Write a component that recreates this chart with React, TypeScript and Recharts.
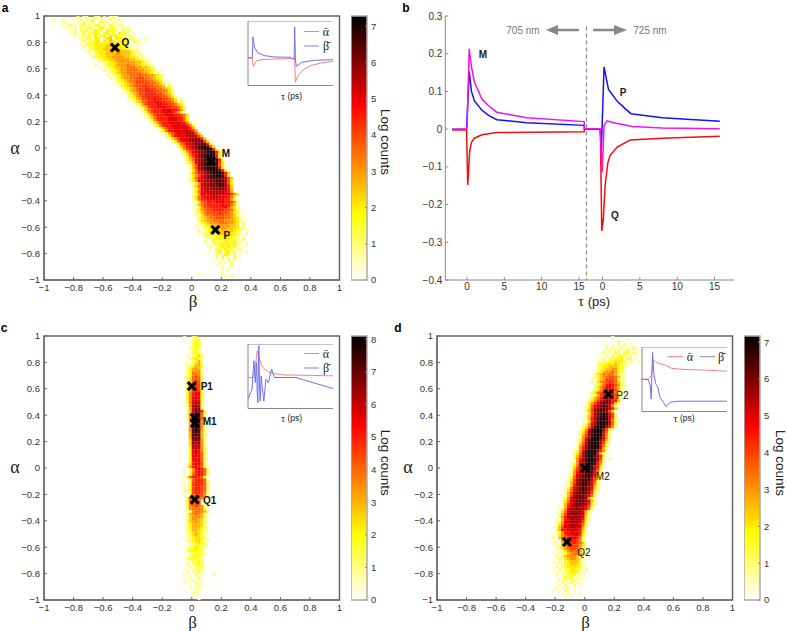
import React from "react";
import {
  ScatterChart, Scatter, XAxis, YAxis, ReferenceArea, ReferenceLine,
  LineChart, Line, BarChart, Bar,
} from "recharts";

const FONT = "'Liberation Sans', Arial, sans-serif";
const SERIF = "'Liberation Serif', serif";
const axisTicks = [-1, -0.8, -0.6, -0.4, -0.2, 0, 0.2, 0.4, 0.6, 0.8, 1];

// Each row: "first bin:levels" from alpha=1 downward; a level char is half a log count, blank = empty bin.
const rowsA = [
"11:2 12  21 2 121","3:2  2  1 12 213 121 2 12","6:12 1 213 22 1312 21 1","6:1 221 2312 33 2132 12","7:21 2 3 232 342 332 212 1",
"9:12 233 2432 4332 3221","8:1 2 23 3343 3423 4322 1 1","10:2 1323 4334 4343 3221","11:12 33 44 345 4434 32 1 2","12:13 3244 4354 4443 321 1",
"12:1 2334444455444331 2","13:2 33444455454432 1 1","13:1 234445555554431 2","14:12 3444555565554321","15:1 23445556655543 21",
"16:2334455666655443 2","17:12344556666655432 1","18:1 2344566666655432","17:2  2344566676655432","19:1 23455667776655431",
"20:2 2345667777665543 1","21:1234566777776654 2","21:1 234566777877665431","22:2 2456677888776543","24:2345677888877654 1",
"23:1 2345678888877653 1","25:2345678889887765 3","26:234567889988776542","27:23567889998877642","26:1 2456889999887653",
"28:23467899999887642","29:23568899a9988764 2","28:1 2457899aa998875 3","31:2368999aa9988754","30:1 246899aaa9988753",
"32:12578999aaa99863","33:2368999aaa9863","34:2468999aaa99874","34:12579999aaa9974","35:1368999aaa9974",
"36:146899aaaa9974","37:247999aaaaa974","38:136899aaaaa96","39:24799aaaaba96","40:13689aaabbb85",
"41:2479aaabbbb85","42:2468aaabbcb95","43:2479aabbccc84","44:1478aabccdd93","45:2579abcdeed84",
"46:3689abcdeee93","46:1368abbcdeee94","47:2479abcdeee93","47:1368abcdeee92","48:357abcdeeed93",
"48:246abcdeeed84","48:1 58bcdeeed84","49:258bcdeeed94","49:147abcdeeed94","49:2579abcdeeed95",
"49:1468abcddeed94","49:2479abccdddcb85","49:246aabbccdddb84","50:146abbccdddb84","50:257abbcccddb95",
"50:136abbbccccb95","50:247aabbbbbba96","50:136aaabbbbbaa864","50:2479aaabbaaa974","50:14799aaaaaa9963",
"50:1 478999aaa99862","51:257899999a99752","50:1 368899999a8641","51:2467889999887531","51:2357888898876431",
"51:2 4677888877652 1","51:1345677888776542","52:245667777666542 1","52:13456667776654 3","51:2 2345566666554 2",
"52:1 234455665544321","52:2 1344455555432 1","53:12344455544431 2","52:1 232344454432 1","54:1 2334444332 2",
"54:2 13233433422 1","55:1 2334343421 2","55:12 23434331 1","56:1 332433 22","55:1  24 3423 1 2",
"57:12 243 2 1","58:2 3 1 31","57:1  2 3 2 1","59:2 1 2","58:1 1  2",
"60:2 1","60:1 1","52:1       2","61:1 2","",
];
const rowsC = [
"47:1  24","47:1  233","50:343","49:1344","49:2343","50:342","49:1343","48:1 2453","49:24541","48:1 2462",
"48:2 3563","48:134663","48:246762","48:247772","48:248873","48:248983","48:258983","48:358a93","48:369a93","48:369a94",
"48:36ab94","48:37abb4","48:37abb4","48:37bcb4","48:37bcb4","48:37bdc3","48:27cdc3","49:6cdd3","48:26ceda3","48:27dfe82",
"48:17efe82","48:17ege82","48:16ege72","49:6ege72","49:6fgf72","49:7ege72","49:6efe62","49:6efe63","49:6ede62","49:5ded72",
"49:5dcd72","49:5ccc72","49:4ccc73","49:4bcb73","49:4bcb83","49:4bbb82","49:4bbb83","49:4abb83","48:15abb93","48:26aba82",
"47:1 27aba82","47:2 37aba83","47:1 38aba82","48:38aaa83","46:1  38aaa82","47:1 39aaa82","47:1 49aa983","47:2 49aa983","47:1249aa982","47:2 39aa972 1",
"47:1 38a9972","48:39a9972","48:38998 3","48:37998 2","48:3789872 1","48:2788873","47:1 2788762","48:2678762","48:2577763","48:2577652",
"48:2567653","48:2466652","48:2466643","48:2466542","48:2356542","48:2356532","47:1 245543","48:234554 2","45:1   234543","47:1 234432",
"48:2345431","48:234443","47:1 234432","48:134432","48:233422","48:1 3343","48:2 2343","47:1 2 3331","48:1 2332","48:2 1231",
"47:2 1 2 2   2","47:1 2 12","48:1 2 21","47:2 1 21","49:1 22 1","49:2 12","47:1  121","50:2 1","51:11","52:1",
];
const rowsD = [
"59:1","61:1  1","59:1 2 1 1","57:1 1 2 2 1 1","57:2 2 12 1 2","56:1 2 22 13 1 1","56:2 1 32 33 21","55:1 2 3 333 2 1 1","55:12 23334 32 1","54:1 2 334443 21 1",
"54:23344454321","54:23445554321","54:2345566431","53:12456676431","53:2457677531","53:23567887521","52:1 3568887421","52:2 4678987521","53:13579a98632","53:2468aa97521",
"52:12468aaa8621","52:2478abaa731","52:13589bba841","51:13579bcba841","51:2468abcb9951","50:1368abdcb952","50:147abcdca62","50:248abcdcb952","50:258bcdcb84","50:148bcdeda82",
"50:258bcdeda83","49:1 59bdeeda72","49:1 49bdeedb73","49:136abdeeda72","49:247adeeeb962","48:136adeeeb83","48:247bdeeea72","48:258bdeeea62","47:1 69bdeeda62","47:136adeeeb952",
"47:147bdeeeb83","47:158bdeeea73","46:1 69bdeeea52","46:136adeeeb962","46:247bdeeea52","46:258bdeedb94","46:269bdeedb83 2","45:1 6abdeeda72","45:136abdeed961","45:147abdeda94",
"45:158abdedb83","45:269bcdeda72","44:1 6abcddca62","44:137abcddb952","44:148bcdddb83","44:258bcddca72","43:1 59bcddca63","43:136abcdcba52","43:147abcdcb942","43:258bccdcb83",
"42:1 58bcccba72","42:136abcccb63","42:147abcccba52","42:258abcccb942","41:1 59abcbba83","41:136abbcbba72","41:147abbbba62","41:258bbccba52","41:269bbbbba41","40:1 59abbbb942",
"40:136aabbba83","40:147aabbba73","40:258aabbaa62","40:2599aaaa951","39:1 3699aaa942","39:1 46899aa83","39:2 57899a972","38:1 1 68899862","39:12 578898751","39:1 2568888641",
"39: 12467887531","40:1 2467776 2","39:1 2 35677652","40:2 3566651 1","40:12 4566541","39:1 2 3455531","40:1 2345543 1","40:2 23444431","39:1 2 234433 2","40:1 223443 1",
"40:2 12333 21","40:1 1323 21 1","41:2 2 32 1","40:1 2 12 2 1","41:1 21 2 1","40:2 1 2 1 1","39:1 1 2  1","42:1 2 1 1","40:1  1 1","",
];

const marksA = [
  { beta: -0.52, alpha: 0.76, label: "Q", dx: 10.5, dy: -5 },
  { beta: 0.13, alpha: -0.1, label: "M", dx: 15, dy: -8 },
  { beta: 0.16, alpha: -0.62, label: "P", dx: 11.5, dy: 6 },
];
const marksC = [
  { beta: 0, alpha: 0.62, label: "P1", dx: 15, dy: 0 },
  { beta: 0.02, alpha: 0.38, label: "", dx: 0, dy: 0 },
  { beta: 0.02, alpha: 0.34, label: "M1", dx: 15, dy: -2 },
  { beta: 0.02, alpha: -0.24, label: "Q1", dx: 15, dy: 1 },
];
const marksD = [
  { beta: 0.16, alpha: 0.56, label: "P2", dx: 14, dy: 1 },
  { beta: 0, alpha: 0, label: "M2", dx: 18, dy: 8 },
  { beta: -0.12, alpha: -0.56, label: "Q2", dx: 17, dy: 11 },
];

// Panel b: tau on a joined axis, the 725 nm block starts after the 705 nm one.
const block2 = 18.15;
const magentaB = [[-2,0],[-0.1,0],[0.02,0.01],[0.3,0.213],[0.6,0.165],[1,0.125],[2,0.08],[3,0.06],[4,0.045],[8,0.03],[15.7,0.02],[15.72,0.001],[block2-0.3,0.001],[block2-0.05,-0.115],[block2+0.2,0.01],[block2+0.6,0.022],[block2+1.5,0.017],[block2+4,0.007],[block2+8,0.003],[block2+15.7,0.001]];
const blueB = [[-2,0],[-0.05,0],[0.3,0.153],[0.6,0.1],[1,0.075],[2,0.05],[3,0.035],[4,0.025],[8,0.017],[15.7,0.01],[15.72,0.001],[block2-0.3,0.001],[block2-0.15,-0.05],[block2+0.2,0.165],[block2+0.8,0.105],[block2+2,0.073],[block2+3,0.055],[block2+3.8,0.041],[block2+8,0.03],[block2+15.7,0.021]];
const redB = [[-2,-0.002],[-0.05,-0.002],[0.1,-0.148],[0.2,-0.12],[0.35,-0.06],[0.6,-0.035],[1,-0.024],[2,-0.015],[4,-0.009],[15.7,-0.007],[15.72,0],[block2-0.3,0],[block2-0.1,-0.27],[block2+0.1,-0.24],[block2+0.35,-0.15],[block2+0.7,-0.09],[block2+1,-0.07],[block2+2,-0.047],[block2+3.7,-0.029],[block2+8,-0.024],[block2+15.7,-0.019]];
const tickPosB = [0, 5, 10, 15, block2, block2 + 5, block2 + 10, block2 + 15];
const tickLabelB = ["0", "5", "10", "15", "0", "5", "10", "15"];
const yTicksB = [-0.4, -0.3, -0.2, -0.1, 0, 0.1, 0.2, 0.3];

const insetAred = [[0,-0.146],[5,-0.146],[6.2,-0.406],[9.6,-0.25],[15,-0.198],[31,-0.177],[50,-0.167],[54.5,-0.167],[55.4,-0.896],[59,-0.667],[65,-0.51],[73,-0.385],[85,-0.302],[100,-0.25]];
const insetAblue = [[0,-0.146],[5,-0.146],[5.8,0.51],[7.7,0.167],[11.5,0.01],[19,-0.073],[31,-0.115],[50,-0.125],[50.7,-0.167],[54,-0.177],[54.6,0.823],[55.4,-0.177],[56.5,-0.406],[63,-0.281],[77,-0.219],[100,-0.198]];
const insetCred = [[0,-0.04],[5.8,-0.04],[7.7,0.115],[10.8,0.79],[13.5,0.53],[17.3,0.27],[23,0.146],[30.8,0.083],[42,0.04],[69,0.031],[100,0.01]];
const insetCblue = [[0,-0.7],[4.6,-0.41],[6.9,0.48],[8.5,-0.2],[10,0.43],[10.8,-0.5],[11.5,-0.82],[12.1,0.3],[12.7,0.95],[13.4,-0.2],[14.2,-0.77],[15.4,0.01],[16.5,-0.3],[18.5,-0.77],[21,-0.09],[23.8,-0.2],[27.7,0.22],[30.8,-0.04],[55.8,-0.04],[100,-0.385]];
const insetDred = [[0,0],[7.7,0],[11.5,0.147],[12.7,0.6],[15.4,0.547],[19,0.495],[27,0.44],[34.6,0.337],[50,0.305],[73,0.284],[100,0.25]];
const insetDblue = [[0,0],[7,-0.01],[9.6,-0.19],[10.8,-0.61],[12.3,0.83],[13.8,0.18],[16,-0.137],[18.5,-0.24],[21,-0.56],[25,-0.716],[28,-0.85],[32.7,-0.716],[42.3,-0.68],[100,-0.68]];

const toPts = (a: number[][]) => a.map(([x, y]) => ({ x, y }));

const levelChars = "0123456789abcdefg";
function buildCells(rows: string[]) {
  const cells: { beta: number; alpha: number; v: number }[] = [];
  rows.forEach((row, j) => {
    if (!row) return;
    const [s, str] = row.split(":");
    const start = Number(s);
    for (let k = 0; k < str.length; k++) {
      if (str[k] === " ") continue;
      cells.push({ beta: -0.99 + 0.02 * (start + k), alpha: 0.99 - 0.02 * j, v: levelChars.indexOf(str[k]) / 2 });
    }
  });
  return cells;
}

function heatColor(v: number, max: number) {
  const t = Math.min(1, v / max);
  const y = 0.25, r = 0.66;
  if (t < y) return `rgb(255,255,${Math.round(255 * (1 - t / y))})`;
  if (t < r) return `rgb(255,${Math.round(255 * (1 - (t - y) / (r - y)))},0)`;
  return `rgb(${Math.round(255 * (1 - (t - r) / (1 - r)))},0,0)`;
}

const fmt = (v: number) => String(v).replace("-", "\u2212");
const tickStyle = { fontSize: 9.5, fontFamily: FONT, fill: "#333" };

function Heat({ left, top, rows, max, marks, bold }: any) {
  const cells = buildCells(rows);
  return (
    <div style={{ position: "absolute", left, top }}>
      <ScatterChart width={345} height={310} margin={{ left: 14, right: 5.5, top: 16, bottom: 10 }}>
        <XAxis type="number" dataKey="beta" domain={[-1, 1]} ticks={axisTicks} height={20} stroke="#666"
          tickSize={-3} tickMargin={7} tick={tickStyle} tickFormatter={fmt} interval={0} allowDataOverflow />
        <YAxis type="number" dataKey="alpha" domain={[-1, 1]} ticks={axisTicks} width={30} stroke="#666"
          tickSize={-3} tickMargin={7} tick={tickStyle} tickFormatter={fmt} interval={0} allowDataOverflow />
        <Scatter className="heat" data={cells} isAnimationActive={false}
          shape={(p: any) => (
            <rect x={p.cx - 1.55} y={p.cy - 1.4} width={3.1} height={2.8} fill={heatColor(p.payload.v, max)} />
          )} />
        <Scatter data={marks} isAnimationActive={false}
          shape={(p: any) => (
            <g>
              <path d={`M${p.cx - 4} ${p.cy - 4}L${p.cx + 4} ${p.cy + 4}M${p.cx + 4} ${p.cy - 4}L${p.cx - 4} ${p.cy + 4}`}
                stroke="#000" strokeWidth={3} fill="none" />
              <text x={p.cx + p.payload.dx} y={p.cy + p.payload.dy} textAnchor="middle" dominantBaseline="central"
                fontFamily={FONT} fontSize={10} fontWeight={bold ? 700 : 400} fill="#111">{p.payload.label}</text>
            </g>
          )} />
        <ReferenceArea x1={-1} x2={1} y1={-1} y2={1} fill="none" stroke="#666" strokeWidth={1.5} ifOverflow="visible" />
      </ScatterChart>
    </div>
  );
}

function ColorBar({ left, top, max, ticks, id }: any) {
  return (
    <div style={{ position: "absolute", left, top }}>
      <BarChart width={41} height={310} data={[{ name: "c", v: max }]} barCategoryGap={0}
        margin={{ left: 0, right: 0, top: 16, bottom: 30 }}>
        <defs>
          <linearGradient id={id} x1="0" y1="1" x2="0" y2="0">
            <stop offset="0" stopColor="#fff" />
            <stop offset="0.25" stopColor="#ff0" />
            <stop offset="0.66" stopColor="#f00" />
            <stop offset="1" stopColor="#000" />
          </linearGradient>
        </defs>
        <XAxis dataKey="name" hide />
        <YAxis orientation="right" type="number" domain={[0, max]} ticks={ticks} width={25} axisLine={false}
          stroke="#888" tickSize={-2} tickMargin={6} tick={tickStyle} interval={0} />
        <Bar dataKey="v" fill={`url(#${id})`} stroke="#aaa" strokeWidth={1.5} isAnimationActive={false} />
      </BarChart>
    </div>
  );
}

function Inset({ left, top, red, blue }: any) {
  return (
    <div style={{ position: "absolute", left, top }}>
      <LineChart width={86.5} height={64.5} margin={{ left: 0, right: 0, top: 0, bottom: 0 }}>
        <XAxis type="number" dataKey="x" domain={[0, 100]} hide />
        <YAxis type="number" domain={[-1, 1]} width={1} ticks={[-0.75, -0.5, -0.25, 0, 0.25, 0.5, 0.75]}
          axisLine={false} stroke="#888" tickSize={-2} tick={false} />
        <Line data={toPts(red)} dataKey="y" stroke="#f77f88" strokeWidth={1} dot={false} isAnimationActive={false} />
        <Line data={toPts(blue)} dataKey="y" stroke="#6f6ff5" strokeWidth={1} dot={false} isAnimationActive={false} />
        <ReferenceArea x1={0} x2={100} y1={-1} y2={1} fill="none" stroke="#888" strokeWidth={1} ifOverflow="visible" />
      </LineChart>
    </div>
  );
}

function Txt({ x, y, size = 10, family = FONT, weight = 400, fill = "#222", anchor = "middle", rotate, children }: any) {
  return (
    <text x={x} y={y} fontSize={size} fontFamily={family} fontWeight={weight} fill={fill} textAnchor={anchor}
      dominantBaseline="central" transform={rotate ? `rotate(${rotate} ${x} ${y})` : undefined}>{children}</text>
  );
}

function InsetLegend({ rl, rb, yr, yb, tx }: any) {
  return (
    <>
      <line x1={rl} x2={rb} y1={yr} y2={yr} stroke="#f77f88" />
      <Txt x={tx} y={yr} size={12} family={SERIF}>{"\u03B1\u0304"}</Txt>
      <line x1={rl} x2={rb} y1={yb} y2={yb} stroke="#8080f5" />
      <Txt x={tx} y={yb} size={12} family={SERIF}>{"\u03B2\u0304"}</Txt>
    </>
  );
}

export default function App() {
  return (
    <div style={{ position: "absolute", left: 0, top: 0, width: 787, height: 631, background: "#fff", overflow: "hidden" }}>
      <style>{`.heat{filter:blur(0.45px)}`}</style>
      <Heat left={0} top={0} rows={rowsA} max={7.28} marks={marksA} bold />
      <Heat left={0} top={320} rows={rowsC} max={8.1} marks={marksC} bold />
      <Heat left={393.3} top={320} rows={rowsD} max={7.17} marks={marksD} />
      <ColorBar left={351} top={0} max={7.28} ticks={[0, 1, 2, 3, 4, 5, 6, 7]} id="cmA" />
      <ColorBar left={351} top={320} max={8.1} ticks={[0, 1, 2, 3, 4, 5, 6, 7, 8]} id="cmC" />
      <ColorBar left={744.3} top={320} max={7.17} ticks={[0, 1, 2, 3, 4, 5, 6, 7]} id="cmD" />

      <div style={{ position: "absolute", left: 400, top: 0 }}>
        <LineChart width={340} height={310} margin={{ left: 15, right: 6, top: 16, bottom: 10 }}>
          <XAxis type="number" dataKey="x" domain={[-2.9, 35.75]} ticks={tickPosB} height={20} stroke="#888"
            tickSize={-3} tickMargin={6} interval={0} tick={{ fontSize: 10, fontFamily: FONT, fill: "#333" }}
            tickFormatter={(v: number) => tickLabelB[tickPosB.indexOf(v)]} allowDuplicatedCategory={false} />
          <YAxis type="number" domain={[-0.4, 0.3]} ticks={yTicksB} width={30.3} stroke="#888"
            tickSize={-3} tickMargin={6} interval={0} tick={{ fontSize: 10, fontFamily: FONT, fill: "#333" }}
            tickFormatter={fmt} />
          <ReferenceLine segment={[{ x: 16, y: 0.272 }, { x: 16, y: -0.4 }]} stroke="#888" strokeWidth={1.2} strokeDasharray="4 3" />
          <Line data={toPts(redB)} dataKey="y" stroke="#f01010" strokeWidth={1.5} dot={false} isAnimationActive={false} />
          <Line data={toPts(blueB)} dataKey="y" stroke="#1414e6" strokeWidth={1.5} dot={false} isAnimationActive={false} />
          <Line data={toPts(magentaB)} dataKey="y" stroke="#f510f0" strokeWidth={1.5} dot={false} isAnimationActive={false} />
        </LineChart>
      </div>

      <Inset left={246.7} top={21.3} red={insetAred} blue={insetAblue} />
      <Inset left={246.7} top={344.3} red={insetCred} blue={insetCblue} />
      <Inset left={640.7} top={347.3} red={insetDred} blue={insetDblue} />

      <svg width={787} height={631} style={{ position: "absolute", left: 0, top: 0, pointerEvents: "none" }}>
        <Txt x={5} y={8} size={12} weight={700} fill="#000">a</Txt>
        <Txt x={406} y={8} size={12} weight={700} fill="#000">b</Txt>
        <Txt x={4} y={328} size={12} weight={700} fill="#000">c</Txt>
        <Txt x={398} y={328} size={12} weight={700} fill="#000">d</Txt>

        <Txt x={15} y={148} size={18} family={SERIF}>α</Txt>
        <Txt x={193} y={301} size={17} family={SERIF}>β</Txt>
        <Txt x={15} y={467} size={18} family={SERIF}>α</Txt>
        <Txt x={192.7} y={622} size={17} family={SERIF}>β</Txt>
        <Txt x={408} y={467} size={18} family={SERIF}>α</Txt>
        <Txt x={585.7} y={622} size={17} family={SERIF}>β</Txt>

        <Txt x={385.5} y={142} size={13.5} rotate={90}>Log counts</Txt>
        <Txt x={385.5} y={462.7} size={13.5} rotate={90}>Log counts</Txt>
        <Txt x={780} y={463} size={13.5} rotate={90}>Log counts</Txt>

        <text x={594} y={301} fontSize={13} textAnchor="middle" dominantBaseline="central" fontFamily={FONT} fill="#222">
          <tspan fontFamily={SERIF} fontSize={15}>τ</tspan> (ps)
        </text>
        <Txt x={483} y={54} weight={700} fill="#222">M</Txt>
        <Txt x={623} y={92} weight={700} fill="#222">P</Txt>
        <Txt x={615} y={215} weight={700} fill="#222">Q</Txt>
        <Txt x={523} y={30} fill="#777">705 nm</Txt>
        <Txt x={650} y={30} fill="#777">725 nm</Txt>
        <path d="M579 28.7H558V25L546 30L558 35V31.3H579Z" fill="#888" />
        <path d="M593 28.7H614V25L627 30L614 35V31.3H593Z" fill="#888" />

        <text x={291.5} y={95.5} fontSize={8.5} textAnchor="middle" dominantBaseline="central" fontFamily={FONT} fill="#222"><tspan fontFamily={SERIF} fontSize={10}>τ</tspan> (ps)</text>
        <text x={291.5} y={418} fontSize={8.5} textAnchor="middle" dominantBaseline="central" fontFamily={FONT} fill="#222"><tspan fontFamily={SERIF} fontSize={10}>τ</tspan> (ps)</text>
        <text x={684} y={418} fontSize={8.5} textAnchor="middle" dominantBaseline="central" fontFamily={FONT} fill="#222"><tspan fontFamily={SERIF} fontSize={10}>τ</tspan> (ps)</text>

        <InsetLegend rl={304} rb={319} yr={31.5} yb={46} tx={326} />
        <InsetLegend rl={304} rb={319} yr={353.5} yb={368} tx={326} />
        <line x1={667.5} x2={683} y1={356.7} y2={356.7} stroke="#f77f88" />
        <Txt x={690} y={356.7} size={12} family={SERIF}>{"\u03B1\u0304"}</Txt>
        <line x1={700} x2={715} y1={356.7} y2={356.7} stroke="#8080f5" />
        <Txt x={721} y={356.7} size={12} family={SERIF}>{"\u03B2\u0304"}</Txt>
      </svg>
    </div>
  );
}
